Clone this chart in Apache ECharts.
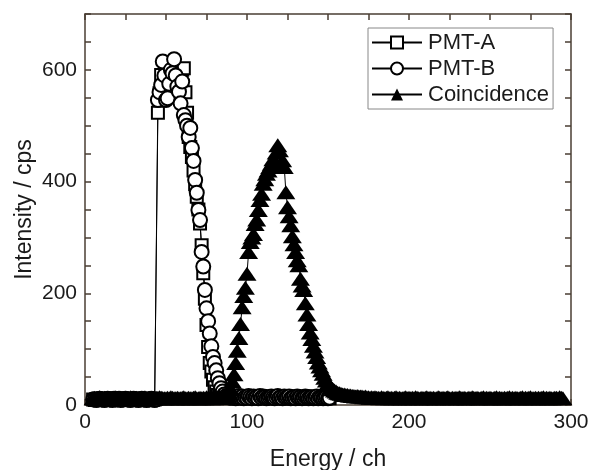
<!DOCTYPE html>
<html><head><meta charset="utf-8">
<script src="https://cdn.jsdelivr.net/npm/echarts@6/dist/echarts.min.js"></script>
<style>html,body{margin:0;padding:0;background:#fff}#c{width:602px;height:470px}</style>
</head><body><div id="c"></div>
<script>
// ---- data ----
const seriesNames = ['PMT-A', 'PMT-B', 'Coincidence'];
const xTickLabels = [0, 100, 200, 300];
const yTickLabels = [0, 200, 400, 600];
const xName = 'Energy / ch';
const yName = 'Intensity / cps';

// PMT-A, channels 5 .. 151
const pmtAStart = 5;
const pmtA = [
  10,9,10,11,10,9,10,10,11,10, 9,10,11,10,10,9,10,11,10,10,
  10,9,10,11,10,10,9,10,10,11, 10,9,10,10,11,10,9,10,10,11,
  523,558,591,570,555,580,560,575,590,585,
  595,600,590,580,575,600,603,560,523,480,
  462,444,420,395,373,350,325,286,236,190,
  143,104,75,60,45,32,24,18,15,
  14,13,15,12,14,16,13,15,14,12, 15,13,14,16,12,14,13,15,14,13,
  12,15,14,13,16,14,12,13,15,14, 13,14,12,15,13,14,16,13,12,14,
  15,13,14,12,13,15,14,13,12,14, 13,15,12,14,13,12,14,13,15,12,
  14,13,12,14,13,12,13,12
];

// PMT-B, channels 5 .. 151
const pmtBStart = 5;
const pmtB = [
  10,10,9,10,11,10,10,9,10,11, 10,10,9,11,10,10,11,9,10,10,
  11,10,10,9,10,11,10,10,9,10, 11,10,10,9,10,10,11,10,9,10,
  546,560,573,615,590,546,549,575,600,594,
  619,590,570,561,540,579,519,510,500,480,
  496,460,437,403,380,349,331,274,248,206,
  173,150,128,105,86,75,62,48,39,
  30,24,19,16,15,14,13,15,14,12, 14,16,13,15,12,14,13,16,14,12,
  15,13,14,12,16,13,15,14,12,13, 14,15,13,12,14,16,13,14,12,15,
  13,14,15,12,13,14,12,15,13,14, 12,13,15,14,12,13,14,12,13,15,
  12,14,13,12,13,14,12,13
];

// Coincidence, channels 5 .. 295
const coincStart = 5;
const coinc = [
  12,13,12,12,14,12,12,13,12,13, 12,12,13,12,14,12,12,13,12,12,
  13,12,12,14,13,12,12,13,12,12, 12,13,14,12,12,13,12,12,13,12,
  12,14,13,12,12,12,13,12,14,13, 12,12,13,12,12,13,14,12,12,13,
  12,12,13,14,12,12,13,12,13,12, 14,13,12,12,13,12,14,13,15,13,
  14,15,13,
  17,21,28,42,55,75,97,120,145,175,
  195,210,235,274,292,300,306,324,332,349,
  367,378,396,404,414,420,426,432,440,438,
  452,465,456,430,438,426,381,354,338,322,
  302,288,274,259,250,226,214,206,182,162,
  145,130,118,106,96,86,76,69,62,56,
  49,44,39,35,31,28,26,24,22,21,
  20,19,19,
  18,18,17,17,16,16,15,16,15,15, 15,14,15,14,14,13,14,13,14,13,
  13,12,14,13,12,13,14,12,13,12, 13,14,12,13,12,12,13,14,12,13,
  12,13,12,14,13,12,12,13,12,13, 14,12,13,12,13,12,12,14,13,12,
  13,12,13,14,12,12,13,12,13,12, 14,13,12,13,12,12,13,12,14,13,
  12,13,12,12,13,14,12,13,12,13, 12,12,13,14,12,13,12,12,13,12,
  13,14,12,13,12,13,12,12,13,14, 12,13,12,13,14,12,12,13,12,13,
  12,13,14,12,13,12,13,12,12,13, 13,12,14,13,12
];

// ---- chart ----
function toPairs(start, vals) { return vals.map((v, i) => [start + i, v]); }

const font = '"Liberation Sans", Arial, sans-serif';
const axisColor = '#4a3e33';
const textColor = '#1a1a1a';

function makeX(pos, labels) {
  return {
    type: 'value', position: pos, min: 0, max: 300, interval: 25,
    splitLine: { show: false },
    axisLine: { show: true, onZero: false, lineStyle: { color: axisColor, width: 1.5 } },
    axisTick: { show: true, inside: true, length: 6, lineStyle: { color: axisColor, width: 1.5 } },
    axisLabel: labels ? {
      show: true, margin: 7, fontSize: 21, color: textColor, fontFamily: font,
      formatter: v => xTickLabels.includes(v) ? String(v) : ''
    } : { show: false }
  };
}
function makeY(pos, labels) {
  return {
    type: 'value', position: pos, min: 0, max: 700, interval: 50,
    splitLine: { show: false },
    axisLine: { show: true, onZero: false, lineStyle: { color: axisColor, width: 1.5 } },
    axisTick: { show: true, inside: true, length: 6, lineStyle: { color: axisColor, width: 1.5 } },
    axisLabel: labels ? {
      show: true, margin: 8, fontSize: 21, color: textColor, fontFamily: font,
      formatter: v => yTickLabels.includes(v) ? String(v) : ''
    } : { show: false }
  };
}

const xBottom = makeX('bottom', true);
xBottom.name = xName; xBottom.nameLocation = 'middle'; xBottom.nameGap = 43;
xBottom.nameMoveOverlap = false;
xBottom.nameTextStyle = { fontSize: 23, color: textColor, fontFamily: font };
const yLeft = makeY('left', true);
yLeft.name = yName; yLeft.nameLocation = 'middle'; yLeft.nameGap = 49;
yLeft.nameMoveOverlap = false;
yLeft.nameTextStyle = { fontSize: 23, color: textColor, fontFamily: font };

const common = {
  type: 'line', animation: false, silent: true, clip: true, showAllSymbol: true, showSymbol: true,
  sampling: null, emphasis: { disabled: true }, xAxisIndex: 0, yAxisIndex: 0
};

const option = {
  backgroundColor: '#fff',
  animation: false,
  grid: { left: 85, right: 31, top: 14, bottom: 65, containLabel: false, outerBoundsMode: 'none' },
  xAxis: [xBottom, makeX('top', false)],
  yAxis: [yLeft, makeY('right', false)],
  legend: {
    orient: 'vertical', left: 368, top: 28,
    itemWidth: 50, itemHeight: 15, itemGap: 3,
    padding: [3, 4, 3, 3],
    borderColor: '#888', borderWidth: 1, backgroundColor: '#fff',
    textStyle: { fontSize: 22, color: textColor, fontFamily: font, lineHeight: 23, padding: [0, 0, 0, 1] },
    data: seriesNames
  },
  series: [
    Object.assign({}, common, {
      name: seriesNames[0], data: toPairs(pmtAStart, pmtA),
      symbol: 'emptyRect', symbolSize: 12,
      lineStyle: { color: '#000', width: 1 },
      itemStyle: { color: '#000', borderWidth: 1 }
    }),
    Object.assign({}, common, {
      name: seriesNames[1], data: toPairs(pmtBStart, pmtB),
      symbol: 'emptyCircle', symbolSize: 14,
      lineStyle: { color: '#000', width: 1 },
      itemStyle: { color: '#000', borderWidth: 1 }
    }),
    Object.assign({}, common, {
      name: seriesNames[2], data: toPairs(coincStart, coinc),
      symbol: 'triangle', symbolSize: [19, 14],
      lineStyle: { color: '#000', width: 1 },
      itemStyle: { color: '#000', borderWidth: 0 }
    })
  ]
};

const chart = echarts.init(document.getElementById('c'), null, { renderer: 'canvas' });
chart.setOption(option);
</script>
</body></html>
